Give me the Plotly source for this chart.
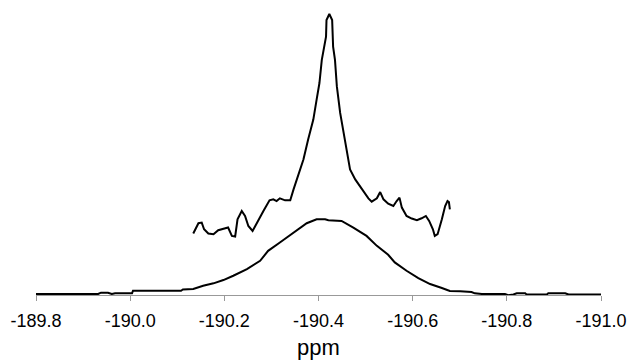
import plotly.graph_objects as go

# Broad component (ppm, intensity)
broad_ppm = [-189.800, -189.932, -189.938, -189.953, -189.961, -189.968, -190.004, -190.006,
             -190.108, -190.112, -190.134, -190.155, -190.177, -190.198, -190.219, -190.248,
             -190.276, -190.293, -190.318, -190.347, -190.375, -190.396, -190.414, -190.421,
             -190.449, -190.474, -190.502, -190.524, -190.548, -190.562, -190.587, -190.612,
             -190.637, -190.662, -190.679, -190.701, -190.725, -190.732, -190.747, -190.796,
             -190.803, -190.814, -190.821, -190.839, -190.842, -190.885, -190.888, -190.924,
             -190.931, -191.000]
broad_int = [0, 0, 1.3, 1.3, 0, 0.7, 0.7, 3.3,
             3.3, 4.5, 5, 8.3, 10.7, 14, 18.3, 25,
             33.3, 43.3, 51.7, 61.7, 71, 75, 75, 74,
             73.3, 66.7, 58.3, 48.3, 39.3, 31.7, 23.3, 16,
             10, 6, 3, 2.7, 2, 0.7, 0, 0,
             -1.3, -0.5, 0.7, 0.7, -0.5, -0.5, 0.7, 0.7,
             -0.5, -0.5]

# Narrow component (ppm, intensity)
narrow_ppm = [-190.134, -190.145, -190.152, -190.157, -190.166, -190.177, -190.187, -190.198,
              -190.208, -190.216, -190.223, -190.228, -190.237, -190.244, -190.251, -190.260,
              -190.269, -190.283, -190.296, -190.304, -190.311, -190.318, -190.329, -190.340,
              -190.347, -190.357, -190.368, -190.378, -190.389, -190.396, -190.402, -190.407,
              -190.412, -190.416, -190.417, -190.423, -190.429, -190.431, -190.435, -190.439,
              -190.446, -190.453, -190.460, -190.467, -190.478, -190.488, -190.499, -190.506,
              -190.513, -190.524, -190.531, -190.538, -190.548, -190.559, -190.566, -190.572,
              -190.577, -190.587, -190.598, -190.609, -190.619, -190.628, -190.635, -190.643,
              -190.647, -190.653, -190.662, -190.669, -190.674, -190.677, -190.679]
narrow_int = [60.7, 71, 71.7, 65, 60.7, 60, 64, 65.7,
              66.7, 58.3, 57.7, 75, 83.3, 78.3, 68.3, 63.3,
              71.7, 83.3, 94, 95, 93.3, 96, 94, 94,
              105, 118.3, 135, 155, 175, 195, 211.7, 235,
              248.3, 258.3, 275, 281, 275, 248.3, 235, 208.3,
              181.7, 161.7, 141.7, 125, 115, 108.3, 101.7, 96,
              92.7, 96, 102.3, 95, 90.7, 88.3, 93.3, 96.7,
              86.7, 78.3, 75.7, 74, 76, 78.3, 73.3, 65,
              58.3, 60, 75, 88.3, 93.3, 92.3, 85]

tick_vals = [-189.8, -190.0, -190.2, -190.4, -190.6, -190.8, -191.0]
tick_text = ["-189.8", "-190.0", "-190.2", "-190.4", "-190.6", "-190.8", "-191.0"]

fig = go.Figure()
fig.add_trace(go.Scatter(x=broad_ppm, y=broad_int, mode="lines",
                         line=dict(color="black", width=2), showlegend=False))
fig.add_trace(go.Scatter(x=narrow_ppm, y=narrow_int, mode="lines",
                         line=dict(color="black", width=2), showlegend=False))

fig.update_layout(
    width=627, height=360,
    margin=dict(l=36, r=26, t=10, b=65, autoexpand=False),
    paper_bgcolor="white", plot_bgcolor="white",
    font=dict(family="Liberation Sans, Arial, sans-serif", color="black"),
    xaxis=dict(
        range=[-189.8, -191.0],
        tickvals=tick_vals, ticktext=tick_text,
        automargin=False,
        showgrid=False, zeroline=False,
        showline=True, linecolor="#999999", linewidth=1,
        ticks="outside", ticklen=5, tickcolor="#999999", tickwidth=1,
        tickfont=dict(size=18, color="black"),
        ticklabelstandoff=4,
        title=dict(text="ppm", font=dict(size=22, color="black"), standoff=10),
    ),
    yaxis=dict(
        range=[-1, 285],
        visible=False, showgrid=False, zeroline=False,
    ),
)

fig.write_html("out.html", config={"displayModeBar": False},
               post_script="document.body.style.margin='0';document.body.style.overflow='hidden';")
